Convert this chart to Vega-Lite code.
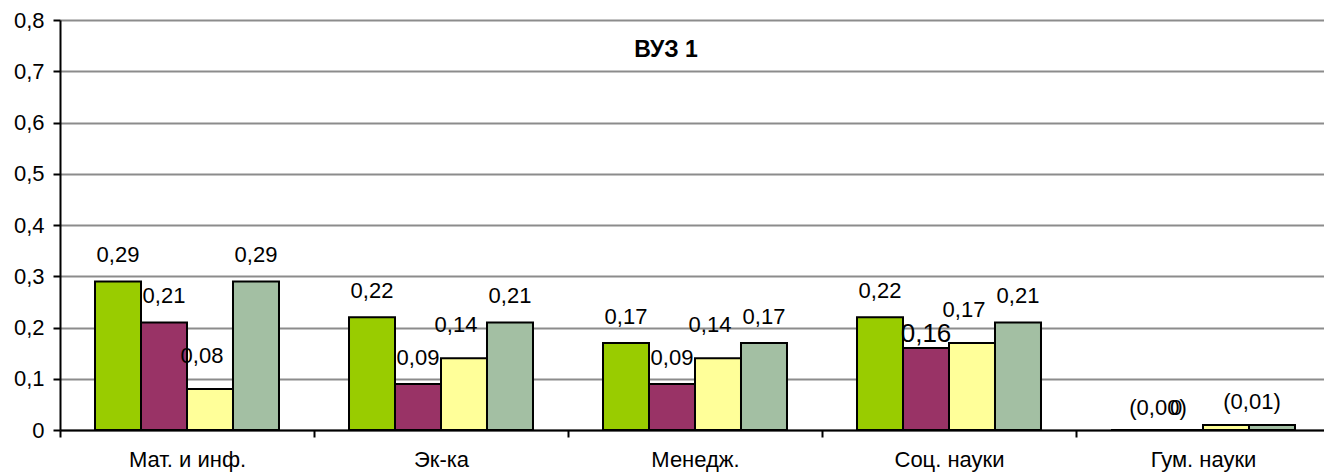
{
  "$schema": "https://vega.github.io/schema/vega-lite/v6.json",
  "autosize": {"type": "none"},
  "width": 1270,
  "height": 410,
  "padding": {"left": 60, "top": 20, "right": 0, "bottom": 42},
  "background": "white",
  "title": {
    "text": "ВУЗ 1",
    "font": "Liberation Sans",
    "fontSize": 23,
    "fontWeight": "bold",
    "color": "black",
    "anchor": "middle",
    "frame": "group",
    "baseline": "alphabetic",
    "offset": 0,
    "dx": -29,
    "dy": 71
  },
  "config": {
    "view": {"stroke": null},
    "font": "Liberation Sans",
    "text": {"font": "Liberation Sans", "fontSize": 22, "color": "black", "baseline": "middle", "align": "center"}
  },
  "data": {
    "values": [
      {"cat": "Мат. и инф.", "series": "Ряд 1", "value": 0.29, "label": "0,29"},
      {"cat": "Мат. и инф.", "series": "Ряд 2", "value": 0.21, "label": "0,21"},
      {"cat": "Мат. и инф.", "series": "Ряд 3", "value": 0.08, "label": "0,08"},
      {"cat": "Мат. и инф.", "series": "Ряд 4", "value": 0.29, "label": "0,29"},
      {"cat": "Эк-ка", "series": "Ряд 1", "value": 0.22, "label": "0,22"},
      {"cat": "Эк-ка", "series": "Ряд 2", "value": 0.09, "label": "0,09"},
      {"cat": "Эк-ка", "series": "Ряд 3", "value": 0.14, "label": "0,14"},
      {"cat": "Эк-ка", "series": "Ряд 4", "value": 0.21, "label": "0,21"},
      {"cat": "Менедж.", "series": "Ряд 1", "value": 0.17, "label": "0,17"},
      {"cat": "Менедж.", "series": "Ряд 2", "value": 0.09, "label": "0,09"},
      {"cat": "Менедж.", "series": "Ряд 3", "value": 0.14, "label": "0,14"},
      {"cat": "Менедж.", "series": "Ряд 4", "value": 0.17, "label": "0,17"},
      {"cat": "Соц. науки", "series": "Ряд 1", "value": 0.22, "label": "0,22"},
      {"cat": "Соц. науки", "series": "Ряд 2", "value": 0.16, "label": "0,16"},
      {"cat": "Соц. науки", "series": "Ряд 3", "value": 0.17, "label": "0,17"},
      {"cat": "Соц. науки", "series": "Ряд 4", "value": 0.21, "label": "0,21"},
      {"cat": "Гум. науки", "series": "Ряд 1", "value": 0, "label": "(0,00)"},
      {"cat": "Гум. науки", "series": "Ряд 2", "value": 0, "label": "0"},
      {"cat": "Гум. науки", "series": "Ряд 3", "value": 0.01, "label": ""},
      {"cat": "Гум. науки", "series": "Ряд 4", "value": 0.01, "label": "(0,01)"}
    ]
  },
  "encoding": {
    "x": {
      "field": "cat",
      "type": "nominal",
      "sort": null,
      "scale": {"paddingInner": 0, "paddingOuter": 0},
      "axis": {
        "title": null,
        "labelAngle": 0,
        "tickBand": "extent",
        "labelFont": "Liberation Sans",
        "labelFontSize": 22,
        "labelColor": "black",
        "labelPadding": 12,
        "domainColor": "black",
        "domainWidth": 2,
        "tickColor": "black",
        "tickWidth": 2,
        "tickSize": 7,
        "grid": false
      }
    },
    "xOffset": {
      "field": "series",
      "type": "nominal",
      "sort": null,
      "scale": {"paddingInner": 0, "paddingOuter": 0.761}
    },
    "y": {
      "field": "value",
      "type": "quantitative",
      "scale": {"domain": [0, 0.8], "nice": false},
      "axis": {
        "title": null,
        "values": [0, 0.1, 0.2, 0.3, 0.4, 0.5, 0.6, 0.7, 0.8],
        "labelExpr": "replace(format(datum.value, '.1~f'), '.', ',')",
        "labelFont": "Liberation Sans",
        "labelFontSize": 22,
        "labelColor": "black",
        "labelPadding": 9,
        "domainColor": "black",
        "domainWidth": 2,
        "tickColor": "black",
        "tickWidth": 2,
        "tickSize": 7,
        "grid": true,
        "gridColor": "#8c8c8c",
        "gridWidth": 2
      }
    }
  },
  "layer": [
    {
      "mark": {"type": "bar", "stroke": "black", "strokeWidth": 2},
      "encoding": {
        "color": {
          "field": "series",
          "type": "nominal",
          "legend": null,
          "scale": {
            "domain": ["Ряд 1", "Ряд 2", "Ряд 3", "Ряд 4"],
            "range": ["#99CC00", "#993366", "#FFFF99", "#A3BFA3"]
          }
        }
      }
    },
    {
      "transform": [{"filter": "datum.cat != 'Гум. науки' && datum.series != 'Ряд 3' && !(datum.cat == 'Соц. науки' && datum.series == 'Ряд 2')"}],
      "mark": {"type": "text", "dy": -26},
      "encoding": {"text": {"field": "label"}}
    },
    {
      "transform": [{"filter": "datum.cat != 'Гум. науки' && datum.series == 'Ряд 3'"}],
      "mark": {"type": "text", "dy": -33, "dx": -8},
      "encoding": {"text": {"field": "label"}}
    },
    {
      "transform": [{"filter": "datum.cat == 'Соц. науки' && datum.series == 'Ряд 2'"}],
      "mark": {"type": "text", "dy": -14, "fontSize": 26},
      "encoding": {"text": {"field": "label"}}
    },
    {
      "transform": [{"filter": "datum.cat == 'Гум. науки' && datum.series == 'Ряд 1'"}],
      "mark": {"type": "text", "dy": -22, "dx": 24},
      "encoding": {"text": {"field": "label"}}
    },
    {
      "transform": [{"filter": "datum.cat == 'Гум. науки' && datum.series == 'Ряд 2'"}],
      "mark": {"type": "text", "dy": -22, "dx": -4},
      "encoding": {"text": {"field": "label"}}
    },
    {
      "transform": [{"filter": "datum.cat == 'Гум. науки' && datum.series == 'Ряд 4'"}],
      "mark": {"type": "text", "dy": -23, "dx": -20},
      "encoding": {"text": {"field": "label"}}
    }
  ]
}
